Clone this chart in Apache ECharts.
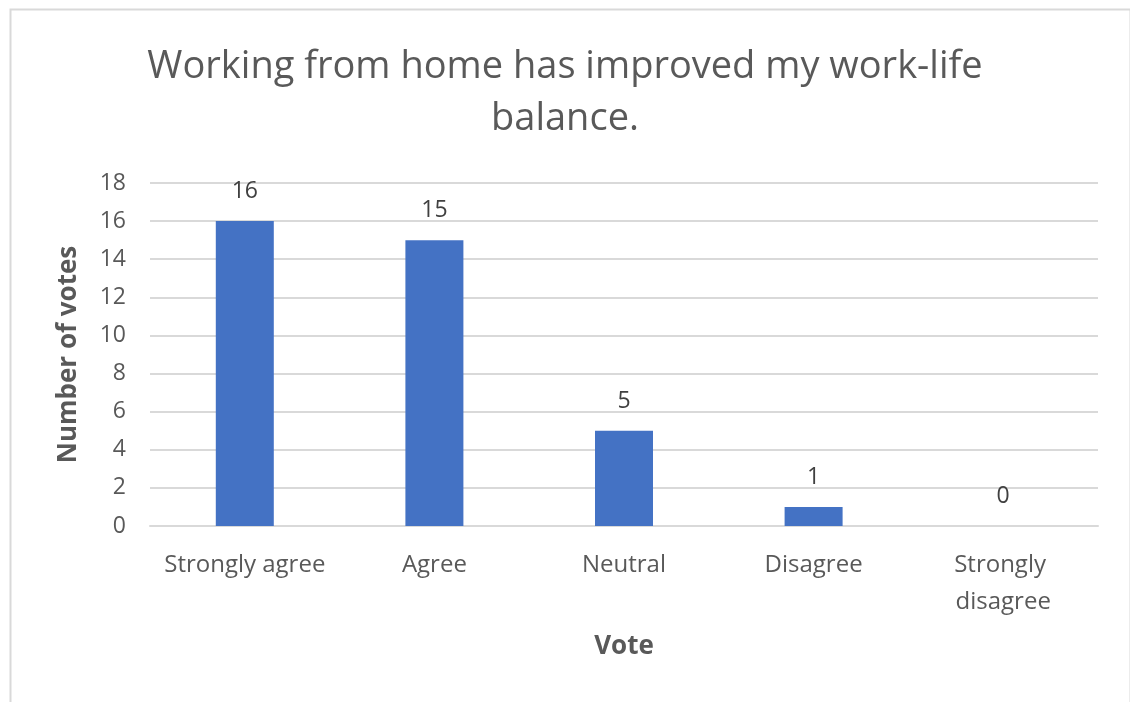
<!DOCTYPE html>
<html>
<head>
<meta charset="utf-8">
<script src="https://cdn.jsdelivr.net/npm/echarts@6/dist/echarts.min.js"></script>
<style>
html,body{margin:0;padding:0;background:#fff;}
#c{width:1130px;height:702px;}
</style>
</head>
<body>
<div id="c"></div>
<script>
const categories = ['Strongly agree', 'Agree', 'Neutral', 'Disagree', 'Strongly disagree'];
const votes = [16, 15, 5, 1, 0];
const titleText = 'Working from home has improved my work-life\nbalance.';
const yAxisTitle = 'Number of votes';
const xAxisTitle = 'Vote';

const FONT = '"Open Sans", "Noto Sans", sans-serif';
const chart = echarts.init(document.getElementById('c'), null, {renderer: 'canvas'});
chart.setOption({
  backgroundColor: '#ffffff',
  animation: false,
  graphic: [{
    type: 'rect', left: 8, top: 7,
    shape: {width: 1120, height: 710},
    style: {fill: 'none', stroke: '#d9d9d9', lineWidth: 2}
  }],
  title: {
    text: titleText,
    left: 'center',
    top: 36,
    padding: [5, 0, 5, 12],
    textStyle: {fontFamily: FONT, fontSize: 38, fontWeight: 'normal', color: '#595959', lineHeight: 52}
  },
  grid: {left: 150, right: 32, top: 183, bottom: 176, containLabel: false},
  xAxis: {
    type: 'category',
    data: categories,
    name: xAxisTitle,
    nameLocation: 'middle',
    nameGap: 108,
    nameTextStyle: {fontFamily: FONT, fontSize: 26, fontWeight: 'bold', color: '#595959'},
    axisLine: {lineStyle: {color: '#d9d9d9', width: 2}},
    axisTick: {show: false},
    axisLabel: {interval: 0, fontFamily: FONT, fontSize: 24, color: '#595959', margin: 21, width: 178, overflow: 'break', lineHeight: 37}
  },
  yAxis: {
    type: 'value',
    min: 0, max: 18, interval: 2,
    name: yAxisTitle,
    nameLocation: 'middle',
    nameGap: 68,
    nameTextStyle: {fontFamily: FONT, fontSize: 26, fontWeight: 'bold', color: '#595959'},
    axisLine: {show: false},
    axisTick: {show: false},
    splitLine: {lineStyle: {color: '#d9d9d9', width: 2}},
    axisLabel: {fontFamily: FONT, fontSize: 23, color: '#595959', margin: 24}
  },
  series: [{
    type: 'bar',
    data: votes,
    barWidth: 58,
    itemStyle: {color: '#4472C4'},
    label: {show: true, position: 'top', distance: 18, fontFamily: FONT, fontSize: 23, color: '#404040'}
  }]
});
</script>
</body>
</html>
